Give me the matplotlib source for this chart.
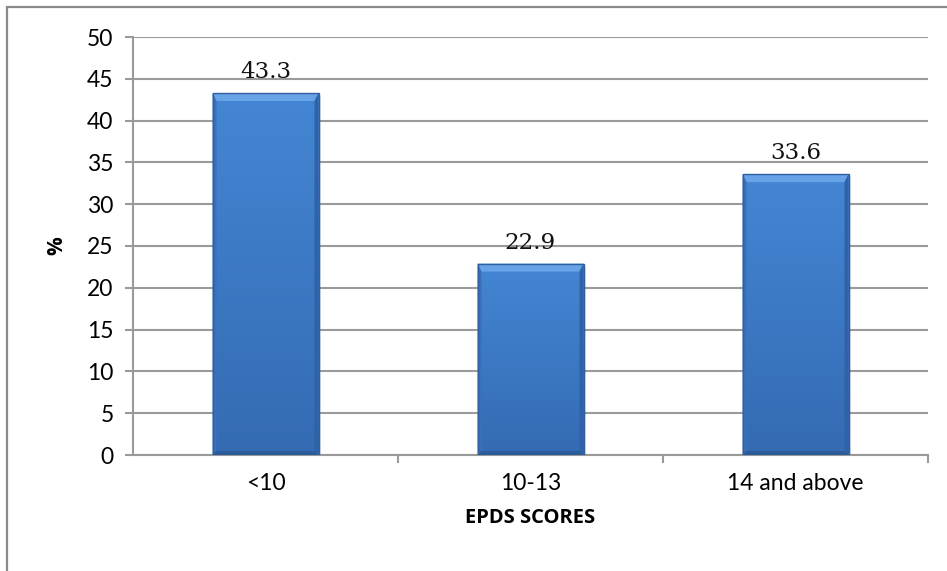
import matplotlib
matplotlib.use("Agg")
import matplotlib.pyplot as plt
import numpy as np
from matplotlib.patches import Polygon, Rectangle
from matplotlib.transforms import IdentityTransform

categories = ["<10", "10-13", "14 and above"]
percentages = [43.3, 22.9, 33.6]
y_ticks = [0, 5, 10, 15, 20, 25, 30, 35, 40, 45, 50]

W, H, DPI = 947, 571, 100
fig = plt.figure(figsize=(W / DPI, H / DPI), dpi=DPI)
fig.patch.set_facecolor("white")

# chart-area frame
fig.add_artist(Rectangle((7 / W, -0.05), 1.2, 1 - 7 / H + 0.05, transform=fig.transFigure,
                         fill=False, edgecolor="#8a8a8a", linewidth=1.6, zorder=0))

ax = fig.add_axes([133 / W, 1 - 455 / H, (928 - 133) / W, (455 - 37) / H])
ax.set_xlim(-0.5, len(categories) - 0.5)
ax.set_ylim(0, 50)

tick_font = dict(family="Lato", size=16.5)
ax.set_yticks(y_ticks)
ax.set_yticklabels([str(v) for v in y_ticks], **tick_font)
ax.set_xticks(range(len(categories)))
ax.set_xticklabels(categories, **tick_font)
ax.set_xticks(np.arange(0.5, len(categories), 1.0), minor=True)

grid_c = "#9a9a9a"
ax.yaxis.grid(True, color=grid_c, linewidth=1.5, zorder=0)
ax.set_axisbelow(True)
for s in ["top", "right"]:
    ax.spines[s].set_visible(False)
ax.spines["left"].set_color(grid_c)
ax.spines["left"].set_linewidth(1.5)
ax.spines["bottom"].set_color(grid_c)
ax.spines["bottom"].set_linewidth(1.5)
ax.tick_params(axis="y", length=6, width=1.5, color=grid_c, pad=8)
ax.tick_params(axis="x", which="major", length=0, pad=13)
ax.tick_params(axis="x", which="minor", length=6, width=1.5, color=grid_c)

bars = ax.bar(range(len(categories)), percentages, width=0.4, color="#3f7fcc",
              edgecolor="none", zorder=3)

ax.set_ylabel("%", family="Open Sans", fontweight="bold", size=15, labelpad=14)
ax.set_xlabel("EPDS SCORES", family="Open Sans", fontweight="bold", size=14.5, labelpad=10)

fig.canvas.draw()
ident = IdentityTransform()
bev_top = 8
bev_side = 4
for bar, val in zip(bars, percentages):
    bb = bar.get_window_extent()
    x0, y0, x1, y1 = bb.x0, bb.y0, bb.x1, bb.y1
    # soft shadow
    ax.add_patch(Rectangle((x0 + 2, y0 - 3), x1 - x0, y1 - y0, transform=ident,
                           facecolor="#000000", alpha=0.10, edgecolor="none", zorder=2))
    # vertical gradient body
    grad = np.linspace(0, 1, 256).reshape(-1, 1)
    top_c = np.array([0x44, 0x86, 0xd4]) / 255
    bot_c = np.array([0x34, 0x6b, 0xb3]) / 255
    img = (bot_c[None, None, :] * (1 - grad[..., None]) + top_c[None, None, :] * grad[..., None])
    im = ax.imshow(img, extent=(bar.get_x(), bar.get_x() + bar.get_width(), 0, val),
                   origin="lower", aspect="auto", zorder=3.5, interpolation="bilinear")
    im.set_clip_path(bar)
    # bevel edges
    top = Polygon([(x0, y1), (x1, y1), (x1 - bev_side, y1 - bev_top), (x0 + bev_side, y1 - bev_top)],
                  closed=True, transform=ident, facecolor="#68a3e8", edgecolor="none", zorder=4)
    left = Polygon([(x0, y0), (x0, y1), (x0 + bev_side, y1 - bev_top), (x0 + bev_side, y0 + bev_side)],
                   closed=True, transform=ident, facecolor="#3a70b8", edgecolor="none", zorder=4)
    right = Polygon([(x1, y0), (x1, y1), (x1 - bev_side, y1 - bev_top), (x1 - bev_side, y0 + bev_side)],
                    closed=True, transform=ident, facecolor="#2f62a6", edgecolor="none", zorder=4)
    bottom = Polygon([(x0, y0), (x1, y0), (x1 - bev_side, y0 + bev_side), (x0 + bev_side, y0 + bev_side)],
                     closed=True, transform=ident, facecolor="#2c5b9a", edgecolor="none", zorder=4)
    for p in (top, left, right, bottom):
        ax.add_patch(p)
    ax.add_patch(Rectangle((x0, y0), x1 - x0, y1 - y0, transform=ident, fill=False,
                           edgecolor="#2f5f9f", linewidth=1.0, zorder=4.5))
    ax.annotate(f"{val:.1f}", xy=(bar.get_x() + bar.get_width() / 2, val),
                xytext=(0, 7), textcoords="offset points", ha="center", va="bottom",
                family="DejaVu Serif", size=16.5, color="#111111")

ax.set_xlim(-0.5, len(categories) - 0.5)
ax.set_ylim(0, 50)
fig.savefig("out.png", dpi=DPI, facecolor="white")
